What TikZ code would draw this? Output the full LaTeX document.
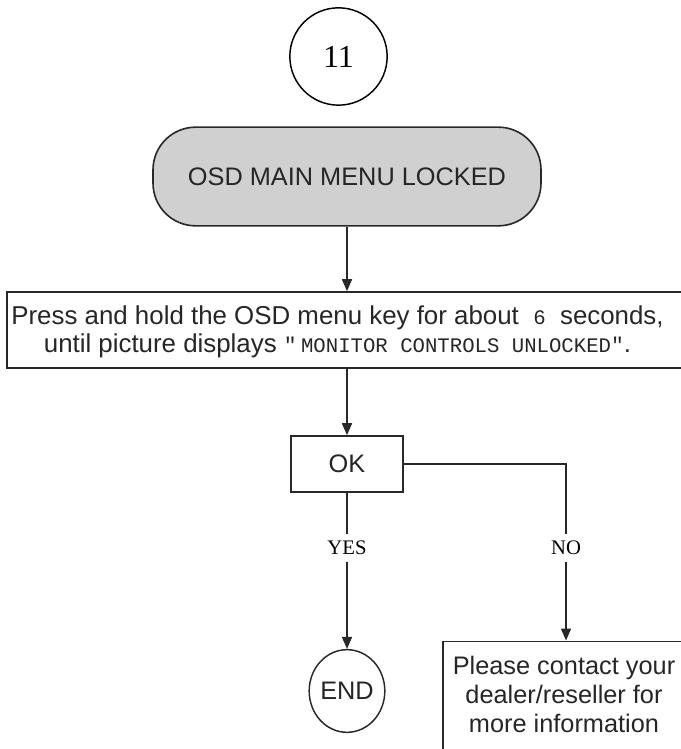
\documentclass[tikz,border=0pt]{standalone}
\usepackage{fontspec}
\setmainfont{Liberation Sans}
\newfontfamily\tnr{Liberation Serif}
\newfontfamily\mono{Liberation Mono}
\usetikzlibrary{arrows.meta,shapes.geometric}
\definecolor{lockgray}{RGB}{208,208,208}
\definecolor{inkline}{RGB}{40,40,40}
\newcommand{\monosmall}[1]{{\mono\fontsize{15.5pt}{18pt}\selectfont #1}}
\newcommand{\straightq}{{\mono\fontsize{16pt}{18pt}\selectfont\char34}}
\tikzset{
  flow/.style={draw=inkline,line width=1.2pt,-{Triangle[length=9pt,width=7.5pt]}},
  link/.style={draw=inkline,line width=1.2pt},
  stepbox/.style={draw=inkline,line width=1.2pt,rectangle,inner sep=0pt},
  bigtxt/.style={font=\fontsize{19pt}{22pt}\selectfont,text=black!85},
  yesno/.style={font=\tnr\fontsize{15.5pt}{18pt}\selectfont,inner sep=5pt}
}
\begin{document}
\begin{tikzpicture}[x=0.75pt,y=0.75pt]
\useasboundingbox (0,0) rectangle (681,-749);
\clip (0,0) rectangle (681,-749);
\node[draw,circle,line width=1.1pt,minimum size=73pt,inner sep=0pt,font=\tnr\fontsize{24pt}{28pt}\selectfont] (page) at (338.5,-56.5) {11};
\node[stepbox,fill=lockgray,rounded corners=32pt,minimum width=291pt,minimum height=74pt,bigtxt] (locked) at (347,-176.5) {OSD MAIN MENU LOCKED};
\node[stepbox,minimum width=520pt,minimum height=57pt] (hold) at (353.5,-330) {};
\node[bigtxt,align=center,inner sep=0pt,font=\fontsize{19.4pt}{21pt}\selectfont] (holdtxt) at (337.5,-332) {Press and hold the OSD menu key for about\ \ \monosmall{6}\ \ seconds,\\ until picture displays \straightq\,\monosmall{MONITOR CONTROLS UNLOCKED}\straightq.};
\node[stepbox,minimum width=84pt,minimum height=42pt,bigtxt] (ok) at (347,-464) {OK};
\node[yesno] (yes) at (347,-548) {YES};
\node[yesno] (no) at (566,-548) {NO};
\node[draw=inkline,line width=1.1pt,ellipse,minimum width=51.75pt,minimum height=62pt,inner sep=0pt,bigtxt] (endnode) at (347,-691) {END};
\node[stepbox,minimum width=185pt,minimum height=88pt] (reply) at (566.5,-700) {};
\node[bigtxt,align=center,inner sep=0pt] (replytxt) at (564,-694.5) {Please contact your\\ dealer/reseller for\\ more information};
% connectors
\draw[flow] (locked.south) -- (locked.south |- hold.north);
\draw[flow] (locked.south |- hold.south) -- (ok.north);
\draw[link] (ok) -- (yes);
\draw[flow] (yes) -- (endnode);
\draw[link] (ok.east) -| (no.north);
\draw[flow] (no) -- (reply.north -| no);
\end{tikzpicture}
\end{document}
